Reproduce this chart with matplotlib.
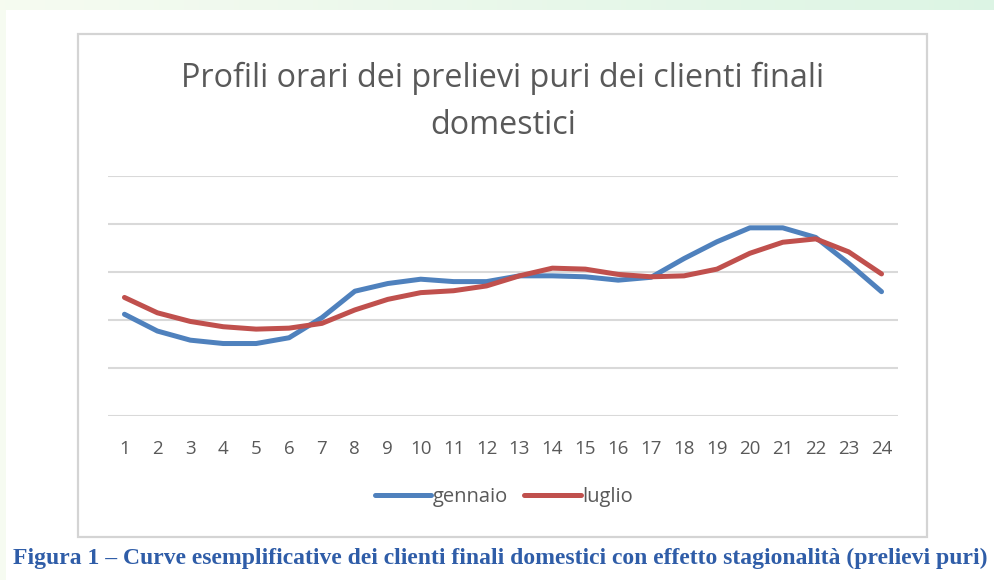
import matplotlib
matplotlib.use("Agg")
import matplotlib.pyplot as plt
import numpy as np
from matplotlib.patches import Rectangle

# hourly profile values (arbitrary units)
hours = list(range(1, 25))
gennaio = [2.12, 1.77, 1.58, 1.51, 1.51, 1.63, 2.05, 2.60, 2.76, 2.85, 2.80, 2.80,
           2.92, 2.92, 2.90, 2.83, 2.89, 3.28, 3.63, 3.92, 3.92, 3.72, 3.18, 2.59]
luglio = [2.47, 2.15, 1.97, 1.86, 1.81, 1.83, 1.93, 2.21, 2.43, 2.57, 2.61, 2.71,
          2.92, 3.08, 3.06, 2.95, 2.90, 2.92, 3.06, 3.39, 3.62, 3.69, 3.42, 2.96]
grid_vals = [0, 1, 2, 3, 4, 5]

title = "Profili orari dei prelievi puri dei clienti finali\ndomestici"
caption = ("Figura 1 \u2013 Curve esemplificative dei clienti finali domestici "
           "con effetto stagionalit\u00e0 (prelievi puri)")

W, H = 994, 580
fig = plt.figure(figsize=(W / 100, H / 100), dpi=100)
fig.patch.set_facecolor("white")

# light green page edges of the screenshot
bg = fig.add_axes([0, 0, 1, 1], zorder=-10)
bg.set_xlim(0, W)
bg.set_ylim(H, 0)
bg.axis("off")
grad = np.linspace(0, 1, 200)[None, :, None]
c0 = np.array([0.965, 0.985, 0.945])
c1 = np.array([0.865, 0.960, 0.895])
bg.imshow(c0 + (c1 - c0) * grad, extent=[0, W, 10, 0], aspect="auto")
bg.add_patch(Rectangle((0, 10), 6, H, color=c0, lw=0))
# chart border
bg.add_patch(Rectangle((78, 34), 849, 503, fill=False, ec="#D4D4D4", lw=1.6))

ax = fig.add_axes([108 / W, 1 - 416 / H, 790 / W, 240 / H])
ax.plot(hours, gennaio, color="#4F81BD", lw=3.6, solid_capstyle="round", label="gennaio")
ax.plot(hours, luglio, color="#C0504D", lw=3.6, solid_capstyle="round", label="luglio")
ax.set_xlim(0.5, 24.5)
ax.set_ylim(grid_vals[0], grid_vals[-1])
ax.set_yticks(grid_vals)
ax.set_yticklabels([])
ax.set_xticks(hours)
ax.tick_params(axis="y", length=0)
ax.tick_params(axis="x", length=0, pad=17, labelsize=13.5, labelcolor="#595959")
for lab in ax.get_xticklabels():
    lab.set_family("Open Sans")
ax.grid(axis="y", color="#D9D9D9", lw=1.5)
ax.set_axisbelow(True)
for s in ax.spines.values():
    s.set_visible(False)

fig.text(503 / W, 1 - 102 / H, title, ha="center", va="center", fontsize=23.3,
         color="#595959", family="Open Sans", linespacing=1.53)

fig.legend(loc="center", bbox_to_anchor=(504 / W, 1 - 497 / H), ncol=2, frameon=False,
           handlelength=2.8, handletextpad=0.1, columnspacing=0.8,
           prop={"family": "Open Sans", "size": 14.5}, labelcolor="#595959")

fig.text(500 / W, 1 - 558 / H, caption, ha="center", va="center", fontsize=17,
         color="#2F5DA8", family="Liberation Serif", weight="bold")

fig.savefig("out.png", dpi=100, facecolor=fig.get_facecolor())
